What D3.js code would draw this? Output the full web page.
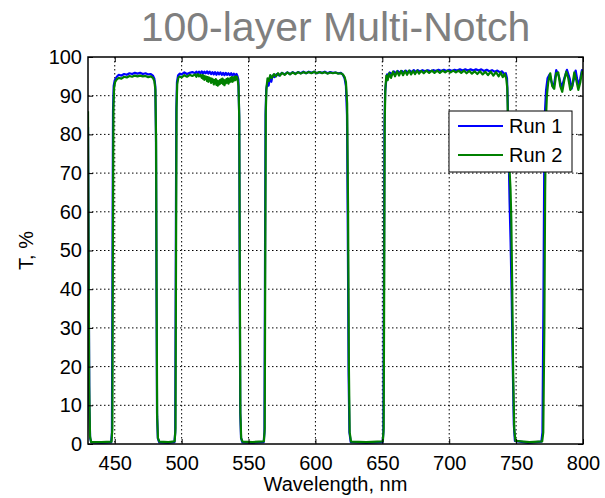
<!DOCTYPE html>
<html>
<head>
<meta charset="utf-8">
<script src="https://cdn.jsdelivr.net/npm/d3@7/dist/d3.min.js"></script>
<style>
  html, body { margin: 0; padding: 0; background: #fff; }
  svg { display: block; font-family: Arial, "Liberation Sans", Helvetica, sans-serif; }
</style>
</head>
<body>
<svg id="chart" width="605" height="498"></svg>
<script>
// Transmission spectra of a 100-layer multi-notch filter, two deposition runs.
// Samples are [wavelength in nm, transmittance in %].
const run1Points = [
  [430.0, 82], [430.5, 45], [431.0, 10], [431.6, 1.5], [432.5, 0.4], [440, 0.3], [447.3, 0.4],
  [447.9, 3], [448.3, 45], [448.7, 86], [449.2, 92.5], [450.0, 94.0], [451.5, 94.9], [453, 95.4],
  [455, 95.2], [457, 95.6], [459, 95.4], [461, 95.8], [463, 95.6], [465, 95.9], [467, 95.7],
  [469, 95.9], [471, 95.6], [473, 95.8], [475, 95.5], [477, 95.6], [478.5, 95.2], [479.6, 94.4],
  [480.3, 92.5], [480.8, 80], [481.2, 40], [481.6, 8], [482.2, 1.5], [483.2, 0.4],
  [490, 0.3], [494.6, 0.5], [495.2, 3], [495.6, 45], [496.0, 86], [496.5, 93.5], [497.3, 95.2],
  [498.5, 95.7], [500, 95.5], [502, 96.0], [504, 95.6], [506, 95.9], [508, 96.1], [510, 95.8],
  [511, 96.2], [512, 95.7], [513, 96.2], [514, 95.8], [515, 96.3], [516, 95.7], [517, 96.2],
  [518, 95.8], [519, 96.3], [520, 95.7], [521, 96.2], [522, 95.6], [523, 96.1], [524, 95.5],
  [525, 96.1], [526, 95.4], [527, 96.0], [528, 95.5], [529, 96.0], [530, 95.4], [531, 95.9],
  [532, 95.3], [533, 95.9], [534, 95.4], [535, 95.8], [536, 95.3], [537, 95.8], [538, 95.2],
  [539, 95.7], [540, 95.3], [541, 95.6], [541.7, 95.1], [542.4, 94.2], [543.0, 85], [543.4, 45],
  [543.8, 8], [544.4, 1.5], [545.4, 0.4],
  [553, 0.3], [561.3, 0.5], [561.9, 3], [562.3, 45], [562.7, 85], [563.2, 91.5], [564, 93.2],
  [565, 92.6], [566, 94.8], [567, 93.6], [568, 95.2], [569.5, 94.8], [571, 95.6], [573, 95.2],
  [575, 95.9], [577, 95.5], [579, 96.0], [581, 95.6], [583, 96.1], [585, 95.7], [587, 96.1],
  [589, 95.8], [591, 96.2], [593, 95.8], [595, 96.2], [597, 95.9], [599, 96.2], [601, 95.8],
  [603, 96.1], [605, 95.9], [607, 96.2], [609, 95.8], [611, 96.1], [613, 95.9], [615, 96.0],
  [617, 95.8], [619, 95.9], [620.5, 95.4], [621.8, 94.5], [622.8, 92.5], [623.6, 85], [624.2, 55],
  [624.8, 18], [625.4, 3], [626.4, 0.5],
  [638, 0.3], [650.2, 0.5], [650.8, 3], [651.2, 40], [651.6, 82], [652.1, 91], [652.8, 93.5],
  [653.6, 95.5], [654.5, 94.8], [655.5, 96.0], [657, 95.5], [658.5, 96.3], [660, 95.8],
  [661.5, 96.4], [663, 95.9], [664.5, 96.4], [666, 96.0], [667.5, 96.5], [669, 96.0],
  [670.5, 96.5], [672, 96.1], [673.5, 96.6], [675, 96.1], [676.5, 96.6], [678, 96.2], [680, 96.6],
  [682, 96.3], [684, 96.6], [686, 96.3], [688, 96.6], [690, 96.4], [692, 96.7], [694, 96.4],
  [696, 96.7], [698, 96.4], [700, 96.7], [702, 96.4], [704, 96.7], [706, 96.5], [708, 96.8],
  [710, 96.5], [712, 96.8], [714, 96.5], [716, 96.8], [718, 96.5], [720, 96.8], [722, 96.5],
  [724, 96.8], [726, 96.4], [728, 96.7], [730, 96.3], [732, 96.6], [734, 96.2], [736, 96.5],
  [738, 96.0], [739.5, 96.3], [741, 95.6], [742.3, 95.8], [743.2, 94.5], [743.8, 88], [744.4, 76],
  [745.1, 63], [745.9, 52], [746.7, 38], [747.5, 20], [748.3, 5], [749.1, 0.8],
  [759, 0.3], [768.9, 0.6], [769.7, 3], [770.4, 35], [771.0, 70], [771.6, 86], [772.4, 91.5],
  [773.5, 94.5], [775, 95.5], [776.5, 93.5], [778, 92.0], [780, 96.6], [782, 95.0], [784, 92.0],
  [786, 94.5], [788, 96.7], [790, 94.5], [791.5, 91.8], [793, 94.0], [794.5, 96.5], [796.5, 92.5],
  [798, 94.5], [799.2, 96.6], [800, 96.0]
];

const run2Points = [
  [430.0, 86], [430.4, 55], [430.9, 15], [431.5, 2], [432.3, 0.5], [440, 0.5], [447.6, 0.6],
  [448.2, 4], [448.6, 50], [449.0, 87], [449.5, 92], [450.3, 93.6], [451.5, 94.2], [453, 94.6],
  [455, 94.4], [457, 94.9], [459, 94.7], [461, 95.1], [463, 94.9], [465, 95.2], [467, 95.0],
  [469, 95.2], [471, 95.0], [473, 95.1], [475, 94.8], [477, 95.0], [478.5, 94.6], [479.6, 93.8],
  [480.4, 91.5], [480.9, 78], [481.3, 38], [481.7, 7], [482.3, 1.5], [483.3, 0.6],
  [490, 0.5], [494.8, 0.7], [495.4, 4], [495.8, 48], [496.2, 87], [496.7, 93], [497.5, 94.6],
  [498.5, 95.0], [500, 94.7], [502, 95.3], [504, 94.9], [506, 95.4], [508, 95.1], [510, 95.5],
  [511, 94.9], [512, 95.6], [513, 95.0], [514, 95.4], [515, 94.6], [515.5, 95.3], [516, 94.4],
  [516.5, 95.2], [517, 94.1], [517.5, 95.0], [518, 94.3], [518.5, 94.9], [519, 93.8],
  [519.5, 94.8], [520, 93.6], [520.5, 94.7], [521, 93.9], [521.5, 94.5], [522, 93.3],
  [522.5, 94.4], [523, 93.5], [523.5, 94.2], [524, 92.9], [524.5, 94.0], [525, 93.2],
  [525.5, 94.3], [526, 92.8], [526.5, 93.9], [527, 92.6], [527.5, 93.7], [528, 92.9],
  [528.5, 94.0], [529, 93.1], [529.5, 94.2], [530, 93.3], [530.5, 94.4], [531, 93.0],
  [531.5, 94.1], [532, 92.7], [532.5, 93.9], [533, 93.2], [533.5, 94.3], [534, 93.4],
  [534.5, 94.5], [535, 93.1], [535.5, 94.2], [536, 93.5], [536.5, 94.6], [537, 93.7],
  [537.5, 94.8], [538, 93.6], [538.5, 94.7], [539, 93.9], [539.5, 94.9], [540, 94.0],
  [540.5, 95.0], [541, 94.2], [541.5, 94.8], [542, 93.8], [542.5, 92.5], [543.1, 84],
  [543.5, 42], [543.9, 8], [544.5, 1.5], [545.5, 0.6],
  [553, 0.5], [561.5, 0.7], [562.1, 4], [562.5, 48], [562.9, 86], [563.4, 92], [564.2, 94.5],
  [565.2, 93.8], [566.2, 95.3], [567.5, 94.6], [569, 95.6], [570.5, 95.0], [572, 95.8],
  [573.5, 95.2], [575, 95.9], [577, 95.4], [579, 96.0], [581, 95.5], [583, 96.0], [585, 95.6],
  [587, 96.1], [589, 95.7], [591, 96.1], [593, 95.8], [595, 96.1], [597, 95.8], [599, 96.2],
  [601, 95.8], [603, 96.1], [605, 95.8], [607, 96.1], [609, 95.7], [611, 96.0], [613, 95.8],
  [615, 96.0], [617, 95.7], [619, 95.8], [620.5, 95.5], [621.8, 94.8], [622.8, 93.5],
  [623.7, 88], [624.4, 60], [625, 20], [625.6, 3], [626.6, 0.6],
  [638, 0.5], [650.4, 0.7], [651.0, 4], [651.4, 42], [651.8, 84], [652.3, 92], [653, 95.2],
  [654, 94.0], [655, 95.8], [656.5, 94.6], [658, 96.2], [659.5, 95.0], [661, 96.3], [662.5, 95.2],
  [664, 96.4], [665.5, 95.3], [667, 96.4], [668.5, 95.4], [670, 96.5], [671.5, 95.5], [673, 96.4],
  [674.5, 95.6], [676, 96.5], [677.5, 95.7], [679, 96.4], [681, 95.8], [683, 96.5], [685, 95.9],
  [687, 96.5], [689, 95.9], [691, 96.5], [693, 95.9], [695, 96.5], [697, 96.0], [699, 96.5],
  [701, 96.0], [703, 96.5], [705, 96.0], [707, 96.5], [709, 95.9], [711, 96.5], [713, 95.8],
  [715, 96.4], [717, 95.7], [719, 96.3], [721, 95.6], [723, 96.3], [725, 95.5], [727, 96.2],
  [729, 95.3], [731, 96.2], [733, 95.2], [735, 96.1], [737, 95.0], [738.5, 96.0], [740, 94.8],
  [741.5, 95.6], [742.6, 94.5], [743.4, 92], [744.0, 82], [744.6, 74], [745.2, 70], [745.8, 66],
  [746.4, 58], [747.1, 40], [747.8, 18], [748.6, 4], [749.5, 0.8],
  [760, 0.5], [769.5, 0.7], [770.3, 3], [771.1, 30], [771.7, 65], [772.3, 84], [773.0, 90],
  [774, 93.5], [775.5, 95.8], [777, 92.5], [778.5, 91.8], [780, 95.8], [781.5, 96.0],
  [783, 92.5], [784.5, 91.0], [786, 94.0], [787.5, 96.2], [789, 94.5], [790.5, 91.5],
  [792, 92.5], [793.5, 96.0], [795, 94.0], [796.5, 91.5], [798, 93.5], [799.3, 96.2], [800, 95.5]
];

const seriesNames = ["Run 1", "Run 2"];
const seriesColors = ["#0000ff", "#008000"];
const xTicks = [450, 500, 550, 600, 650, 700, 750, 800];
const yTicks = [0, 10, 20, 30, 40, 50, 60, 70, 80, 90, 100];
const xDomain = [430, 800];
const yDomain = [0, 100];
const titleText = "100-layer Multi-Notch";
const xLabelText = "Wavelength, nm";
const yLabelText = "T, %";

const series = [
  { name: seriesNames[0], color: seriesColors[0], points: run1Points },
  { name: seriesNames[1], color: seriesColors[1], points: run2Points }
];

const svg = d3.select("#chart");
const plot = { left: 88, right: 583, top: 57, bottom: 444 };

const x = d3.scaleLinear().domain(xDomain).range([plot.left, plot.right]);
const y = d3.scaleLinear().domain(yDomain).range([plot.bottom, plot.top]);

// Dotted grid
const grid = svg.append("g").attr("stroke", "#000").attr("stroke-width", 1)
  .attr("stroke-dasharray", "1.5,2.5").attr("fill", "none");
xTicks.filter(t => t < xDomain[1]).forEach(t => {
  grid.append("line").attr("x1", x(t)).attr("x2", x(t)).attr("y1", plot.top).attr("y2", plot.bottom);
});
yTicks.filter(t => t > yDomain[0] && t < yDomain[1]).forEach(t => {
  grid.append("line").attr("x1", plot.left).attr("x2", plot.right).attr("y1", y(t)).attr("y2", y(t));
});

// Curves, clipped to the axes area
svg.append("clipPath").attr("id", "plotClip").append("rect")
  .attr("x", plot.left).attr("y", plot.top - 2)
  .attr("width", plot.right - plot.left).attr("height", plot.bottom - plot.top + 2);

const line = d3.line().x(d => x(d[0])).y(d => y(d[1])).curve(d3.curveLinear);
const curves = svg.append("g").attr("clip-path", "url(#plotClip)");
series.forEach(s => {
  curves.append("path").datum(s.points)
    .attr("d", line).attr("fill", "none")
    .attr("stroke", s.color).attr("stroke-width", 2.2)
    .attr("stroke-linejoin", "round");
});

// Axes with inward ticks on all four sides
const tickLen = 5;
const fontSize = 20;
const xAxis = d3.axisBottom(x).tickValues(xTicks).tickSizeInner(-tickLen).tickSizeOuter(0).tickPadding(12);
const yAxis = d3.axisLeft(y).tickValues(yTicks).tickSizeInner(-tickLen).tickSizeOuter(0).tickPadding(6);
const xAxisTop = d3.axisTop(x).tickValues(xTicks).tickSizeInner(-tickLen).tickSizeOuter(0).tickFormat("");
const yAxisRight = d3.axisRight(y).tickValues(yTicks).tickSizeInner(-tickLen).tickSizeOuter(0).tickFormat("");

function styleAxis(g) {
  g.select(".domain").remove();
  g.selectAll(".tick line").attr("stroke", "#000").attr("stroke-width", 1);
  g.selectAll(".tick text").attr("fill", "#000").attr("font-size", fontSize)
    .attr("font-family", "Arial, 'Liberation Sans', sans-serif");
}
svg.append("g").attr("transform", `translate(0,${plot.bottom})`).call(xAxis).call(styleAxis);
svg.append("g").attr("transform", `translate(${plot.left},0)`).call(yAxis).call(styleAxis);
svg.append("g").attr("transform", `translate(0,${plot.top})`).call(xAxisTop).call(styleAxis);
svg.append("g").attr("transform", `translate(${plot.right},0)`).call(yAxisRight).call(styleAxis);

// Axes box
svg.append("rect").attr("x", plot.left).attr("y", plot.top)
  .attr("width", plot.right - plot.left).attr("height", plot.bottom - plot.top)
  .attr("fill", "none").attr("stroke", "#000").attr("stroke-width", 1.5);

// Title and axis labels
const cx = (plot.left + plot.right) / 2;
svg.append("text").attr("x", cx).attr("y", 41).attr("text-anchor", "middle")
  .attr("font-size", 41).attr("fill", "#7f7f7f").text(titleText);
svg.append("text").attr("x", cx).attr("y", 491).attr("text-anchor", "middle")
  .attr("font-size", fontSize).attr("fill", "#000").text(xLabelText);
svg.append("text").attr("transform", `translate(33,${(plot.top + plot.bottom) / 2}) rotate(-90)`)
  .attr("text-anchor", "middle").attr("font-size", fontSize).attr("fill", "#000").text(yLabelText);

// Legend
const legend = svg.append("g").attr("transform", "translate(449,111)");
legend.append("rect").attr("width", 123).attr("height", 61)
  .attr("fill", "#fff").attr("stroke", "#000").attr("stroke-width", 1);
series.forEach((s, i) => {
  const ly = 15 + i * 29;
  legend.append("line").attr("x1", 9).attr("x2", 54).attr("y1", ly).attr("y2", ly)
    .attr("stroke", s.color).attr("stroke-width", 2.2);
  legend.append("text").attr("x", 60).attr("y", ly + 7).attr("font-size", fontSize)
    .attr("fill", "#000").text(s.name);
});
</script>
</body>
</html>
